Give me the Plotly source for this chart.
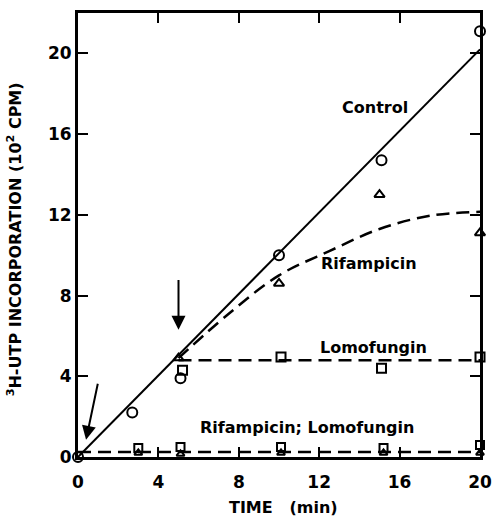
import plotly.graph_objects as go

# ---- data ----
ctrl_t = [0, 2.7, 5.1, 10, 15.1, 20]
ctrl_v = [0, 2.2, 3.9, 10.0, 14.7, 21.1]
ctrl_fit_t = [0, 20]
ctrl_fit_v = [0, 20.2]

rif_t = [5, 10, 15, 20]
rif_v = [4.9, 8.6, 13.0, 11.1]
rif_fit_t = [5, 7.5, 10, 12.5, 15, 17.5, 20]
rif_fit_v = [4.9, 7.1, 9.0, 10.2, 11.3, 11.95, 12.15]

lomo_t = [5.2, 10.1, 15.1, 20]
lomo_v = [4.3, 4.95, 4.4, 4.95]
lomo_fit_t = [5, 20]
lomo_fit_v = [4.8, 4.8]

rl_sq_t = [3.0, 5.1, 10.1, 15.2, 20]
rl_sq_v = [0.45, 0.5, 0.5, 0.45, 0.6]
rl_tri_t = [3.0, 5.1, 10.1, 15.2, 20]
rl_tri_v = [0.2, 0.15, 0.2, 0.2, 0.2]
rl_fit_t = [0, 20]
rl_fit_v = [0.25, 0.25]

x_ticks = [0, 4, 8, 12, 16, 20]
y_ticks = [0, 4, 8, 12, 16, 20]

FONT = "DejaVu Sans"
dash = "13px,7px"

fig = go.Figure()

# fitted lines
fig.add_trace(go.Scatter(x=ctrl_fit_t, y=ctrl_fit_v, mode="lines",
                         line=dict(color="black", width=2), cliponaxis=False))
fig.add_trace(go.Scatter(x=rif_fit_t, y=rif_fit_v, mode="lines",
                         line=dict(color="black", width=2.5, dash=dash, shape="spline"),
                         cliponaxis=False))
fig.add_trace(go.Scatter(x=lomo_fit_t, y=lomo_fit_v, mode="lines",
                         line=dict(color="black", width=2.5, dash=dash), cliponaxis=False))
fig.add_trace(go.Scatter(x=rl_fit_t, y=rl_fit_v, mode="lines",
                         line=dict(color="black", width=2.5, dash=dash), cliponaxis=False))

# markers
mk = dict(color="black", line=dict(color="black", width=2))
fig.add_trace(go.Scatter(x=ctrl_t, y=ctrl_v, mode="markers", cliponaxis=False,
                         marker=dict(symbol="circle-open", size=10, **mk)))
fig.add_trace(go.Scatter(x=rif_t, y=rif_v, mode="markers", cliponaxis=False,
                         marker=dict(symbol="triangle-up-open", size=9, **mk)))
fig.add_trace(go.Scatter(x=lomo_t, y=lomo_v, mode="markers", cliponaxis=False,
                         marker=dict(symbol="square-open", size=9, **mk)))
fig.add_trace(go.Scatter(x=rl_sq_t, y=rl_sq_v, mode="markers", cliponaxis=False,
                         marker=dict(symbol="square-open", size=8, **mk)))
fig.add_trace(go.Scatter(x=rl_tri_t, y=rl_tri_v, mode="markers", cliponaxis=False,
                         marker=dict(symbol="triangle-up-open", size=7, **mk)))

lab_font = dict(family=FONT, size=16, color="black", weight="bold")
annotations = [
    dict(x=14.8, y=17.3, text="Control", showarrow=False, font=lab_font),
    dict(x=14.5, y=9.6, text="Rifampicin", showarrow=False, font=lab_font),
    dict(x=14.7, y=5.45, text="Lomofungin", showarrow=False, font=lab_font),
    dict(x=11.4, y=1.45, text="Rifampicin; Lomofungin", showarrow=False, font=lab_font),
    # arrows
    dict(x=0.4, y=0.85, ax=1.0, ay=3.7, axref="x", ayref="y", xref="x", yref="y",
         text="", showarrow=True, arrowhead=2, arrowsize=1.4, arrowwidth=2, arrowcolor="black"),
    dict(x=5.0, y=6.3, ax=5.0, ay=8.85, axref="x", ayref="y", xref="x", yref="y",
         text="", showarrow=True, arrowhead=2, arrowsize=1.4, arrowwidth=2, arrowcolor="black"),
    # axis titles
    dict(xref="paper", yref="paper", x=-0.157, y=0.49, textangle=-90,
         xanchor="center", yanchor="middle",
         text="<sup>3</sup>H-UTP INCORPORATION (10<sup>2</sup> CPM)", showarrow=False,
         font=dict(family=FONT, size=16, color="black", weight="bold")),
    dict(xref="paper", yref="paper", x=0.51, y=-0.114,
         xanchor="center", yanchor="middle",
         text="TIME&nbsp;&nbsp;&nbsp;(min)", showarrow=False,
         font=dict(family=FONT, size=16, color="black", weight="bold")),
]

axis_common = dict(showline=True, linewidth=3, linecolor="black", mirror="ticks",
                   ticks="inside", ticklen=10, tickwidth=2, tickcolor="black",
                   showgrid=False, zeroline=False, automargin=False,
                   tickfont=dict(family=FONT, size=17, color="black", weight="bold"))

fig.update_layout(
    width=494, height=518,
    margin=dict(l=78, r=14, t=13, b=61),
    paper_bgcolor="white", plot_bgcolor="white",
    showlegend=False,
    annotations=annotations,
    xaxis=dict(range=[0, 20], tickvals=x_ticks, ticktext=[str(v) for v in x_ticks],
               ticklabelstandoff=8, **axis_common),
    yaxis=dict(range=[0, 22], tickvals=y_ticks, ticktext=[str(v) for v in y_ticks],
               **axis_common),
)

# remove the browser's default 8px body margin so the figure fills the window
fig.write_html("out.html",
               config={"displayModeBar": False},
               post_script="document.body.style.margin='0';document.body.style.overflow='hidden';")
